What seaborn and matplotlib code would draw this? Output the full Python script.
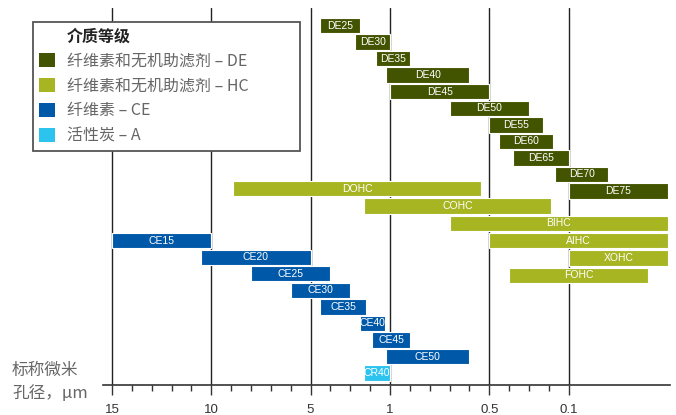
import numpy as np
import matplotlib
matplotlib.use("Agg")
import matplotlib.pyplot as plt
import seaborn as sns
from matplotlib.patches import Patch
from matplotlib.ticker import FixedLocator, FixedFormatter

# ---------------- data (micron ranges, from coarse to fine) ----------------
de_names = ["DE25", "DE30", "DE35", "DE40", "DE45", "DE50", "DE55", "DE60", "DE65", "DE70", "DE75"]
de_from = [4.5, 2.75, 1.7, 1.2, 1.0, 0.7, 0.5, 0.45, 0.38, 0.17, 0.1]
de_to = [2.5, 1.0, 0.9, 0.6, 0.5, 0.3, 0.23, 0.18, 0.1, 0.08, 0.05]

hc_names = ["DOHC", "COHC", "BIHC", "AIHC", "XOHC", "FOHC"]
hc_from = [8.9, 2.3, 0.7, 0.5, 0.1, 0.4]
hc_to = [0.54, 0.19, 0.05, 0.05, 0.05, 0.06]

ce_names = ["CE15", "CE20", "CE25", "CE30", "CE35", "CE40", "CE45", "CE50"]
ce_from = [15, 10.5, 8, 6, 4.5, 2.5, 1.9, 1.2]
ce_to = [10, 5, 4, 3, 2.2, 1.25, 0.9, 0.6]

a_names = ["CR40"]
a_from = [2.3]
a_to = [1.0]

tick_values = [15, 10, 5, 1, 0.5, 0.1]
tick_labels = ["15", "10", "5", "1", "0.5", "0.1"]
minor_values = [14, 13, 12, 11, 9, 8, 7, 6, 4, 3, 2, 0.9, 0.8, 0.7, 0.6, 0.4, 0.3, 0.2]

legend_title = "介质等级"
legend_labels = ["纤维素和无机助滤剂 – DE", "纤维素和无机助滤剂 – HC", "纤维素 – CE", "活性炭 – A"]
axis_label = "标称微米\n孔径，µm"

colors = {"DE": "#435400", "HC": "#a6b521", "CE": "#0058a8", "A": "#2cc3ef"}

# ---------------- style ----------------
sns.set_theme(style="white")
plt.rcParams["font.family"] = ["Noto Sans CJK SC", "DejaVu Sans"]
NARROW = ["Liberation Sans Narrow", "Liberation Sans", "DejaVu Sans"]

# piecewise decade scale (increasing in value): each decade below 1 is stretched 10x
_xp = np.array([0.0, 0.1, 1.0, 20.0])
_fp = np.array([-33.0, -23.0, -14.0, 5.0])


def fwd(v):
    return np.interp(np.asarray(v, float), _xp, _fp)


def inv(u):
    return np.interp(np.asarray(u, float), _fp, _xp)


fig = plt.figure(figsize=(6.76, 4.15), dpi=100)
W, H = 676, 415
ax = fig.add_axes([103 / W, 1 - 385 / H, (670 - 103) / W, (385 - 8) / H])
ax.set_xscale("function", functions=(fwd, inv))
ax.set_xlim(float(inv(0.45)), float(inv(-28.1)))
ax.set_ylim(21.72, -1.06)

groups = [
    (de_names, de_from, de_to, np.arange(len(de_names)), colors["DE"]),
    (hc_names, hc_from, hc_to, 9.85 + 1.05 * np.arange(len(hc_names)), colors["HC"]),
    (ce_names, ce_from, ce_to, 13 + np.arange(len(ce_names)), colors["CE"]),
    (a_names, a_from, a_to, 21 + np.arange(len(a_names)), colors["A"]),
]

for names, f, t, rows, col in groups:
    f = np.array(f, float)
    t = np.array(t, float)
    ax.barh(rows, t - f, left=f, height=0.93, color=col, edgecolor="white",
            linewidth=0.8, zorder=3)
    for n, a, b, r in zip(names, f, t, rows):
        cx = float(inv((fwd(a) + fwd(b)) / 2))
        ax.text(cx, r, n, ha="center", va="center", color="white", fontsize=7.5,
                family=NARROW, zorder=4)

ax.xaxis.set_major_locator(FixedLocator(tick_values))
ax.xaxis.set_major_formatter(FixedFormatter(tick_labels))
ax.xaxis.set_minor_locator(FixedLocator(minor_values))
ax.tick_params(axis="x", which="major", bottom=True, direction="out", length=7,
               width=1, color="#333333", pad=7, labelsize=9.5, labelcolor="#333333")
ax.tick_params(axis="x", which="minor", bottom=True, direction="out", length=4,
               width=1, color="#333333")
for lab in ax.get_xticklabels():
    lab.set_family(NARROW)
ax.set_yticks([])
ax.grid(axis="x", which="major", color="#222222", linewidth=1, zorder=1)
ax.set_axisbelow(True)
for s in ["top", "left", "right"]:
    ax.spines[s].set_visible(False)
ax.spines["bottom"].set_color("#333333")
ax.spines["bottom"].set_linewidth(1.2)
ax.patch.set_alpha(0)

fig.text(12 / W, 1 - 382 / H, axis_label, ha="left", va="center", fontsize=12,
         color="#666666", linespacing=1.45)

handles = [Patch(facecolor="none", edgecolor="none")] + [
    Patch(facecolor=colors[k], edgecolor="none") for k in ["DE", "HC", "CE", "A"]
]
labels = [legend_title] + legend_labels
leg = fig.legend(handles, labels, loc="upper left",
                 bbox_to_anchor=(33 / W, 1 - 151 / H, 267 / W, 129 / H),
                 mode="expand", borderaxespad=0, fontsize=11.5, frameon=True,
                 fancybox=False, handlelength=0.95, handleheight=0.95,
                 handletextpad=0.75, labelspacing=0.5, borderpad=0.4)
leg.get_frame().set_edgecolor("#555555")
leg.get_frame().set_linewidth(1.3)
leg.get_frame().set_facecolor("white")
leg.get_frame().set_alpha(1)
for i, txt in enumerate(leg.get_texts()):
    if i == 0:
        txt.set_fontweight("bold")
        txt.set_color("#222222")
    else:
        txt.set_color("#666666")

fig.savefig("out.png", dpi=100)
